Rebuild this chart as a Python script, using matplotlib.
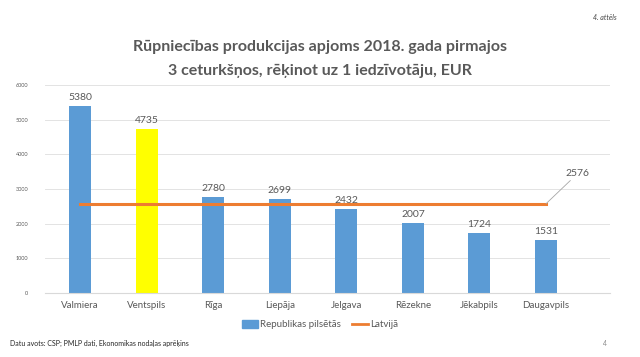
import matplotlib.pyplot as plt
from matplotlib.patches import Patch
from matplotlib.lines import Line2D

# data
cities = ['Valmiera', 'Ventspils', 'Rīga', 'Liepāja', 'Jelgava', 'Rēzekne', 'Jēkabpils', 'Daugavpils']
values = [5380, 4735, 2780, 2699, 2432, 2007, 1724, 1531]
latvia_avg = 2576
yticks = [0, 1000, 2000, 3000, 4000, 5000, 6000]

BLUE = '#5B9BD5'
ORANGE = '#ED7D31'
YELLOW = '#FFFF00'
TXT = '#595959'

plt.rcParams['font.family'] = ['Lato', 'DejaVu Sans']

fig = plt.figure(figsize=(6.4, 3.57), dpi=100)
ax = fig.add_axes([0.07, 0.179, 0.883, 0.583])

x = list(range(len(cities)))
colors = [YELLOW if c == 'Ventspils' else BLUE for c in cities]
ax.bar(x, values, width=0.33, color=colors, zorder=2)
ax.plot([x[0], x[-1]], [latvia_avg, latvia_avg], color=ORANGE, lw=2.2, zorder=3)

for xi, v in zip(x, values):
    ax.text(xi, v + 120, str(v), ha='center', va='bottom', fontsize=7.5, color=TXT)

# label for the average line with a leader
ax.annotate(str(latvia_avg), xy=(x[-1], latvia_avg), xytext=(x[-1] + 0.48, latvia_avg + 750),
            ha='center', va='bottom', fontsize=7.5, color=TXT,
            arrowprops=dict(arrowstyle='-', color='#A6A6A6', lw=0.6, shrinkA=0, shrinkB=0))

ax.set_xlim(-0.53, 7.96)
ax.set_ylim(0, 6000)
ax.set_yticks(yticks)
ax.set_yticklabels([str(t) for t in yticks], fontsize=4, color=TXT)
ax.set_xticks(x)
ax.set_xticklabels(cities, fontsize=7, color=TXT)
ax.tick_params(length=0, pad=6)
ax.tick_params(axis='y', pad=12)
ax.grid(axis='y', color='#E3E3E3', lw=0.7, zorder=0)
for s in ['top', 'right', 'left']:
    ax.spines[s].set_visible(False)
ax.spines['bottom'].set_color('#D9D9D9')

handles = [Patch(color=BLUE, label='Republikas pilsētās'),
           Line2D([0], [0], color=ORANGE, lw=2, label='Latvijā')]
fig.legend(handles=handles, loc='center', bbox_to_anchor=(0.5, 0.09), ncol=2, frameon=False,
           fontsize=7, labelcolor=TXT, handlelength=1.6, handleheight=0.8,
           handletextpad=0.2, columnspacing=1.2)

fig.text(0.5, 0.868, 'Rūpniecības produkcijas apjoms 2018. gada pirmajos',
         ha='center', va='center', fontsize=11.5, fontweight='bold', color=TXT)
fig.text(0.5, 0.8, '3 ceturkšņos, rēķinot uz 1 iedzīvotāju, EUR',
         ha='center', va='center', fontsize=11.5, fontweight='bold', color=TXT)
fig.text(0.963, 0.95, '4. attēls', ha='right', va='center', fontsize=5, style='italic', color='#404040')
fig.text(0.016, 0.039, 'Datu avots: CSP; PMLP dati, Ekonomikas nodaļas aprēķins',
         ha='left', va='center', fontsize=5, color='#262626')
fig.text(0.945, 0.039, '4', ha='center', va='center', fontsize=5, color='#8C8C8C')

fig.savefig('out.png', dpi=100)
